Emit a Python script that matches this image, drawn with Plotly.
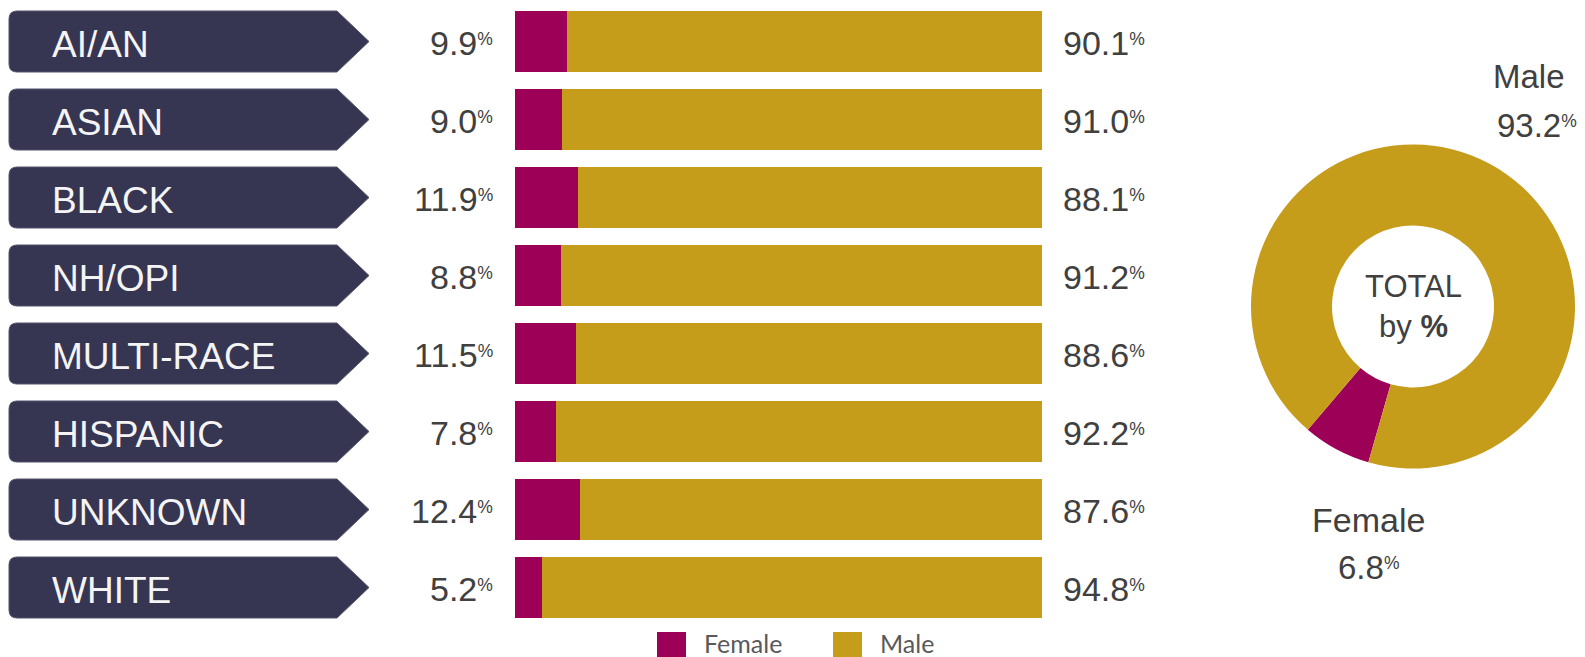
import plotly.graph_objects as go

W, H = 1585, 657

categories = ["AI/AN", "ASIAN", "BLACK", "NH/OPI", "MULTI-RACE", "HISPANIC", "UNKNOWN", "WHITE"]
female_pct = [9.9, 9.0, 11.9, 8.8, 11.5, 7.8, 12.4, 5.2]
male_pct = [90.1, 91.0, 88.1, 91.2, 88.6, 92.2, 87.6, 94.8]
total_labels = ["Female", "Male"]
total_pct = [6.8, 93.2]

FEMALE_C = "#9D0057"
MALE_C = "#C69C1B"
NAVY = "#363552"
TXT = "#404040"
FONT = "Liberation Sans, Arial, sans-serif"


def px(x):
    return x / W


def py(y):
    return 1 - y / H


def pct(v):
    return f"{v:.1f}<span style=\"font-size:25px\"><sup>%</sup></span>"


fig = go.Figure()
fig.add_trace(go.Bar(y=categories, x=female_pct, orientation="h", name="Female",
                     marker=dict(color=FEMALE_C, line=dict(width=0)), hoverinfo="skip"))
fig.add_trace(go.Bar(y=categories, x=male_pct, orientation="h", name="Male",
                     marker=dict(color=MALE_C, line=dict(width=0)), hoverinfo="skip"))

fig.add_trace(go.Pie(labels=total_labels, values=total_pct, hole=0.5, sort=False,
                     direction="clockwise", rotation=196, textinfo="none",
                     marker=dict(colors=[FEMALE_C, MALE_C], line=dict(width=0)),
                     domain=dict(x=[px(1413 - 162), px(1413 + 162)],
                                 y=[py(306.5 + 162), py(306.5 - 162)]),
                     hoverinfo="skip", showlegend=False))

shapes = []
annotations = []
half = 30.5 / 78.0
x0, xb, xt = px(9), px(337), px(369)
rxp = 8 / W
ryp = 8 / 78.0
for i, cat in enumerate(categories):
    top, bot = i - half, i + half
    path = (f"M {x0 + rxp},{top} L {xb},{top} L {xt},{i} L {xb},{bot} L {x0 + rxp},{bot} "
            f"Q {x0},{bot} {x0},{bot - ryp} L {x0},{top + ryp} Q {x0},{top} {x0 + rxp},{top} Z")
    shapes.append(dict(type="path", path=path, xref="paper", yref="y",
                       fillcolor=NAVY, line=dict(color="#55556e", width=1), layer="below"))
    annotations.append(dict(text=cat, x=px(50), y=cat, xref="paper", yref="y",
                            xanchor="left", yanchor="middle", showarrow=False, yshift=-3,
                            font=dict(family=FONT, size=37, color="#F4F4F4")))
    annotations.append(dict(text=pct(female_pct[i]), x=px(495), y=cat,
                            xref="paper", yref="y", xanchor="right", yanchor="middle",
                            showarrow=False, yshift=-1, font=dict(family=FONT, size=34, color=TXT)))
    annotations.append(dict(text=pct(male_pct[i]), x=px(1147), y=cat,
                            xref="paper", yref="y", xanchor="right", yanchor="middle",
                            showarrow=False, yshift=-1, font=dict(family=FONT, size=34, color=TXT)))

# donut labels
annotations.append(dict(text=total_labels[1], x=px(1529), y=py(76), xref="paper", yref="paper",
                        xanchor="center", yanchor="middle", showarrow=False,
                        font=dict(family=FONT, size=33, color=TXT)))
annotations.append(dict(text=pct(total_pct[1]), x=px(1537), y=py(125),
                        xref="paper", yref="paper", xanchor="center", yanchor="middle",
                        showarrow=False, font=dict(family=FONT, size=33, color=TXT)))
annotations.append(dict(text=total_labels[0], x=px(1368), y=py(520), xref="paper", yref="paper",
                        xanchor="center", yanchor="middle", showarrow=False,
                        font=dict(family=FONT, size=34, color=TXT)))
annotations.append(dict(text=pct(total_pct[0]), x=px(1368), y=py(567),
                        xref="paper", yref="paper", xanchor="center", yanchor="middle",
                        showarrow=False, font=dict(family=FONT, size=33, color=TXT)))
annotations.append(dict(text="TOTAL<br>by <b>%</b>", x=px(1413), y=py(307), xref="paper",
                        yref="paper", xanchor="center", yanchor="middle", showarrow=False,
                        font=dict(family=FONT, size=31, color=TXT)))

# manual legend
legend_items = [("Female", FEMALE_C, 657), ("Male", MALE_C, 833)]
for name, col, lx in legend_items:
    shapes.append(dict(type="rect", xref="paper", yref="paper", x0=px(lx), x1=px(lx + 29),
                       y0=py(661), y1=py(632), fillcolor=col, line=dict(width=0)))
    annotations.append(dict(text=name, x=px(lx + 45), y=py(643), xref="paper", yref="paper",
                            xanchor="left", yanchor="middle", showarrow=False,
                            font=dict(family="Lato, sans-serif", size=25, color="#595959")))

fig.update_layout(
    width=W, height=H, margin=dict(l=0, r=0, t=0, b=0),
    paper_bgcolor="white", plot_bgcolor="white",
    barmode="stack", bargap=1 - 61 / 78, showlegend=False,
    xaxis=dict(domain=[px(515), px(1042)], range=[0, 100], visible=False, fixedrange=True),
    yaxis=dict(domain=[py(626.5), py(2.5)], type="category", categoryorder="array",
               categoryarray=categories, range=[len(categories) - 0.5, -0.5],
               visible=False, fixedrange=True),
    shapes=shapes, annotations=annotations,
)

fig.write_html("out.html", config={"displayModeBar": False})
